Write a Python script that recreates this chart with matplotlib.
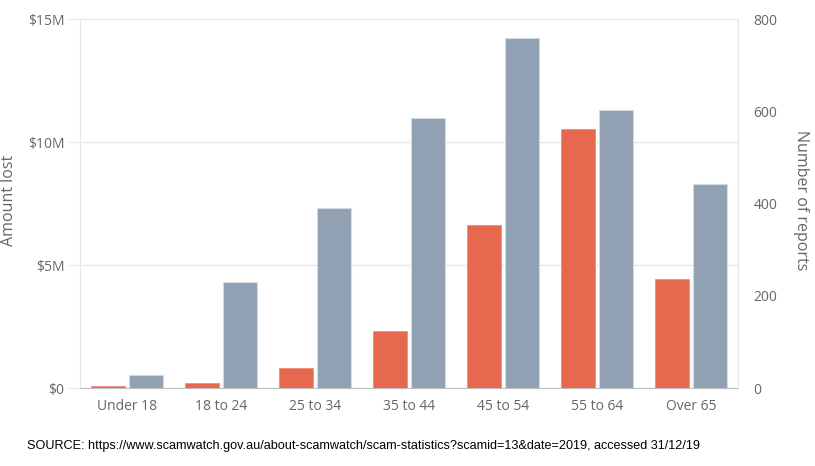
import matplotlib
matplotlib.use('Agg')
import matplotlib.pyplot as plt
import numpy as np

age_groups = ['Under 18', '18 to 24', '25 to 34', '35 to 44', '45 to 54', '55 to 64', 'Over 65']
amount_lost_m = [0.07, 0.22, 0.84, 2.31, 6.62, 10.52, 4.43]   # $ millions
num_reports = [28, 231, 391, 586, 760, 604, 443]

money_ticks = [0, 5, 10, 15]
money_labels = ['$0', '$5M', '$10M', '$15M']
report_ticks = [0, 200, 400, 600, 800]

orange = '#e6684f'
grey = '#91a1b3'
txt = '#666666'
grid = '#e6e6e6'

plt.rcParams['font.family'] = ['Open Sans', 'DejaVu Sans']

fig = plt.figure(figsize=(8.15, 4.66), dpi=100)
ax = fig.add_axes([0.098, 0.167, 0.8075, 0.792])
ax2 = ax.twinx()

x = np.arange(len(age_groups))
w = 0.365
ax.bar(x - 0.2, amount_lost_m, w, color=orange, edgecolor='#ee8470', linewidth=0.5, zorder=3)
ax2.bar(x + 0.2, num_reports, w, color=grey, edgecolor='#d3dae2', linewidth=0.8, zorder=3)

ax.set_xlim(-0.5, len(age_groups) - 0.5)
ax.set_ylim(0, 15)
ax2.set_ylim(0, 800)

ax.set_yticks(money_ticks)
ax.set_yticklabels(money_labels)
ax2.set_yticks(report_ticks)
ax.set_xticks(x)
ax.set_xticklabels(age_groups)

ax.grid(axis='y', color=grid, linewidth=1, zorder=0)
ax.set_axisbelow(True)

for a in (ax, ax2):
    for s in ('top', 'left', 'right', 'bottom'):
        a.spines[s].set_visible(False)
ax.spines['left'].set_visible(True)
ax.spines['left'].set_color(grid)
ax2.spines['right'].set_visible(True)
ax2.spines['right'].set_color(grid)
ax.spines['bottom'].set_visible(True)
ax.spines['bottom'].set_color('#bfbfbf')
ax.spines['bottom'].set_zorder(5)

ax.tick_params(axis='y', colors=grid, labelcolor=txt, labelsize=10, length=9, pad=2)
ax.tick_params(axis='x', length=0, labelcolor=txt, labelsize=10, pad=8)
ax2.tick_params(axis='y', length=0, labelcolor=txt, labelsize=10, pad=11)

ax.set_ylabel('Amount lost', color=txt, fontsize=11.5, va='center')
ax.yaxis.set_label_coords(-0.108, 0.51)
ax2.set_ylabel('Number of reports', color=txt, fontsize=11.5, rotation=-90, va='center')
ax2.yaxis.set_label_coords(1.096, 0.51)

fig.text(0.033, 0.043, 'SOURCE: https://www.scamwatch.gov.au/about-scamwatch/scam-statistics?scamid=13&date=2019, accessed 31/12/19',
         fontsize=9.1, color='black', family=['Liberation Sans Narrow', 'Liberation Sans', 'DejaVu Sans'], va='center')

fig.savefig('out.png', dpi=100, facecolor='white')
